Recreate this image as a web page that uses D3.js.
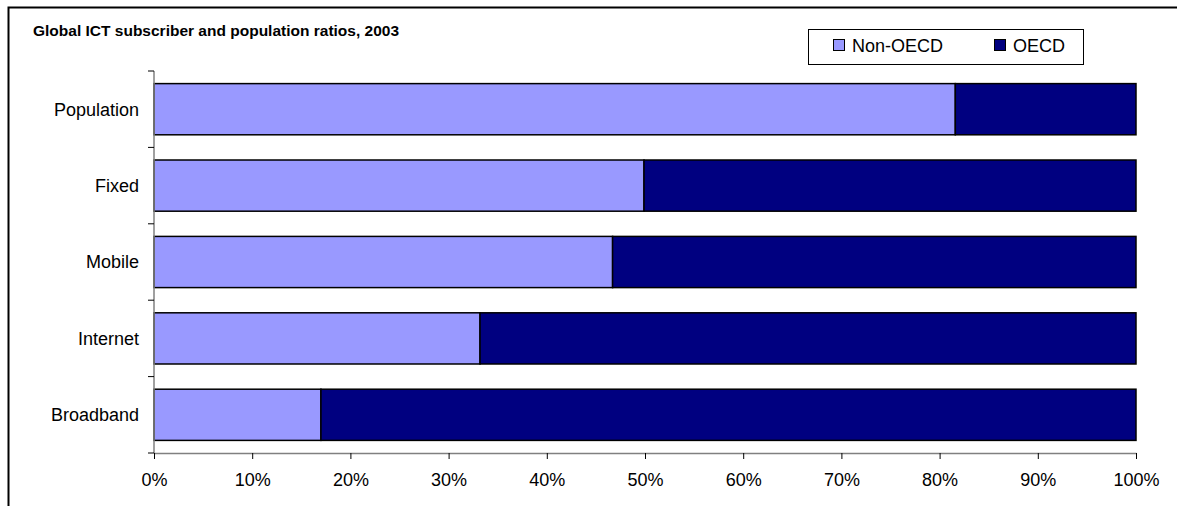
<!DOCTYPE html>
<html>
<head>
<meta charset="utf-8">
<script src="https://cdn.jsdelivr.net/npm/d3@7"></script>
<style>
  html, body { margin: 0; padding: 0; background: #fff; overflow: hidden; }
  svg { display: block; font-family: "Liberation Sans", Arial, sans-serif; }
</style>
</head>
<body>
<div id="chart"></div>
<script>
// chart data
var categories = ["Population", "Fixed", "Mobile", "Internet", "Broadband"];
var series_names = ["Non-OECD", "OECD"];
var non_oecd = [0.816, 0.499, 0.467, 0.332, 0.170];
var oecd = non_oecd.map(d => 1 - d);
var x_ticks = [0, 0.1, 0.2, 0.3, 0.4, 0.5, 0.6, 0.7, 0.8, 0.9, 1];
var colors = ["#9999FF", "#000080"];

var svg_width = 1177;
var svg_height = 506;
var margin = { top: 71, right: 41, bottom: 53, left: 154 };
var width = svg_width - margin.left - margin.right;
var height = svg_height - margin.top - margin.bottom;

var svg = d3.select("#chart")
    .append("svg")
    .attr("width", svg_width)
    .attr("height", svg_height);

// outer frame (runs off the window on right and bottom)
svg.append("path")
    .attr("d", "M8.5,506 V7.5 H1177")
    .attr("fill", "none")
    .attr("stroke", "#000")
    .attr("stroke-width", 2);

svg.append("text")
    .attr("x", 33).attr("y", 36)
    .attr("font-size", 15.5)
    .attr("font-weight", "bold")
    .text("Global ICT subscriber and population ratios, 2003");

var chart = svg.append("g")
    .attr("transform", `translate(${margin.left}, ${margin.top})`);

var x_scale = d3.scaleLinear().domain([0, 1]).range([0, width]);
var y_scale = d3.scaleBand()
    .domain(categories)
    .range([0, height])
    .paddingInner(0.33)
    .paddingOuter(0.165);

// stacked data
var rows = categories.map((c, i) => ({ cat: c, "Non-OECD": non_oecd[i], "OECD": oecd[i] }));
var stacked = d3.stack().keys(series_names)(rows);

chart.selectAll(".series")
    .data(stacked)
    .enter()
    .append("g")
    .attr("fill", (d, i) => colors[i])
    .selectAll("rect")
    .data(d => d)
    .enter()
    .append("rect")
    .attr("x", d => x_scale(d[0]))
    .attr("y", d => y_scale(d.data.cat))
    .attr("width", d => x_scale(d[1]) - x_scale(d[0]))
    .attr("height", y_scale.bandwidth())
    .attr("stroke", "#000")
    .attr("stroke-width", 1.5);

// x axis
var bottom_axis = d3.axisBottom(x_scale)
    .tickValues(x_ticks)
    .tickFormat(d3.format(".0%"))
    .tickSize(6)
    .tickSizeOuter(0)
    .tickPadding(14);

var x_axis = chart.append("g")
    .attr("transform", `translate(0, ${height})`)
    .call(bottom_axis);
x_axis.attr("font-size", 18).attr("font-family", "Liberation Sans, Arial, sans-serif");
x_axis.select(".domain").attr("stroke", "#808080").attr("stroke-width", 1.5);
x_axis.selectAll(".tick line").attr("stroke", "#000");
x_axis.selectAll("text").attr("fill", "#000");

// y axis: line with ticks between categories
var y_line = chart.append("g");
y_line.append("line")
    .attr("x1", 0).attr("x2", 0)
    .attr("y1", 0).attr("y2", height)
    .attr("stroke", "#808080")
    .attr("stroke-width", 1.5);
var step = y_scale.step();
d3.range(categories.length + 1).forEach(function(i) {
    y_line.append("line")
        .attr("x1", -6).attr("x2", 0)
        .attr("y1", i * step).attr("y2", i * step)
        .attr("stroke", "#000");
});

chart.selectAll(".cat-label")
    .data(categories)
    .enter()
    .append("text")
    .attr("x", -15)
    .attr("y", d => y_scale(d) + y_scale.bandwidth() / 2)
    .attr("dy", "0.35em")
    .attr("text-anchor", "end")
    .attr("font-size", 18)
    .text(d => d);

// legend
var legend = svg.append("g");
legend.append("rect")
    .attr("x", 808.5).attr("y", 29.5)
    .attr("width", 275).attr("height", 35)
    .attr("fill", "#fff")
    .attr("stroke", "#000");
var legend_x = [833, 994];
series_names.forEach(function(name, i) {
    legend.append("rect")
        .attr("x", legend_x[i] + 0.5).attr("y", 39.5)
        .attr("width", 11).attr("height", 11)
        .attr("fill", colors[i])
        .attr("stroke", "#000");
    legend.append("text")
        .attr("x", legend_x[i] + 19).attr("y", 52)
        .attr("font-size", 18)
        .text(name);
});
</script>
</body>
</html>
